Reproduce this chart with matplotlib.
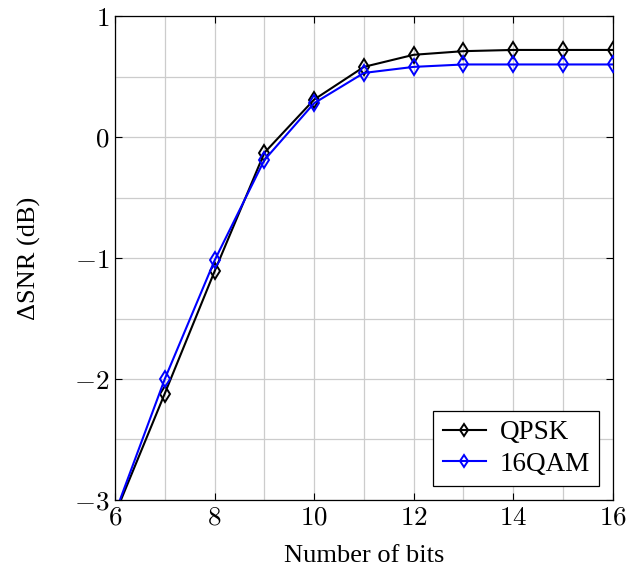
import matplotlib
matplotlib.use('Agg')
import matplotlib.pyplot as plt
import numpy as np

# data
bits = [6, 7, 8, 9, 10, 11, 12, 13, 14, 15, 16]
qpsk = [-3.12, -2.12, -1.11, -0.13, 0.31, 0.58, 0.68, 0.71, 0.72, 0.72, 0.72]
qam16 = [-3.11, -2.00, -1.02, -0.19, 0.28, 0.53, 0.58, 0.60, 0.60, 0.60, 0.60]

x_ticks = [6, 8, 10, 12, 14, 16]
y_ticks = [-3, -2, -1, 0, 1]

plt.rcParams['font.family'] = ['Liberation Serif', 'DejaVu Serif']
plt.rcParams['mathtext.fontset'] = 'cm'

fig = plt.figure(figsize=(6.26, 5.72), dpi=100)
ax = fig.add_axes([0.1837, 0.1259, 0.7953, 0.846])

ax.plot(bits, qpsk, color='black', lw=1.5, marker='d', ms=8.5,
        mfc='none', mew=1.4, label='QPSK', zorder=3)
ax.plot(bits, qam16, color='blue', lw=1.5, marker='d', ms=8.5,
        mfc='none', mew=1.4, label='16QAM', zorder=3)

ax.set_xlim(6, 16)
ax.set_ylim(-3, 1)
ax.set_xticks(x_ticks)
ax.set_xticklabels([f'${v}$' for v in x_ticks])
ax.set_yticks(y_ticks)
ax.set_yticklabels([f'${v}$' for v in y_ticks])
ax.set_xticks(np.arange(6, 17, 1), minor=True)
ax.set_yticks(np.arange(-3, 1.01, 0.5), minor=True)
ax.grid(True, which='both', color='#cccccc', lw=0.9, zorder=0)
ax.set_axisbelow(True)
ax.tick_params(which='major', direction='in', top=True, right=True,
               length=5, width=0.8, labelsize=19.5, pad=4)
ax.tick_params(which='minor', length=0)
for s in ax.spines.values():
    s.set_linewidth(0.9)

ax.set_xlabel('Number of bits', fontsize=19)
ax.set_ylabel('\u0394SNR (dB)', fontsize=19)
ax.xaxis.set_label_coords(0.5, -0.093)
ax.yaxis.set_label_coords(-0.148, 0.5)

leg = ax.legend(loc='lower right', fontsize=19.5, fancybox=False,
                edgecolor='black', framealpha=1, borderaxespad=0.5,
                handlelength=1.6, handletextpad=0.5, borderpad=0.35,
                labelspacing=0.25, markerscale=0.75)
leg.get_frame().set_linewidth(0.9)

fig.savefig('out.png', dpi=100)
